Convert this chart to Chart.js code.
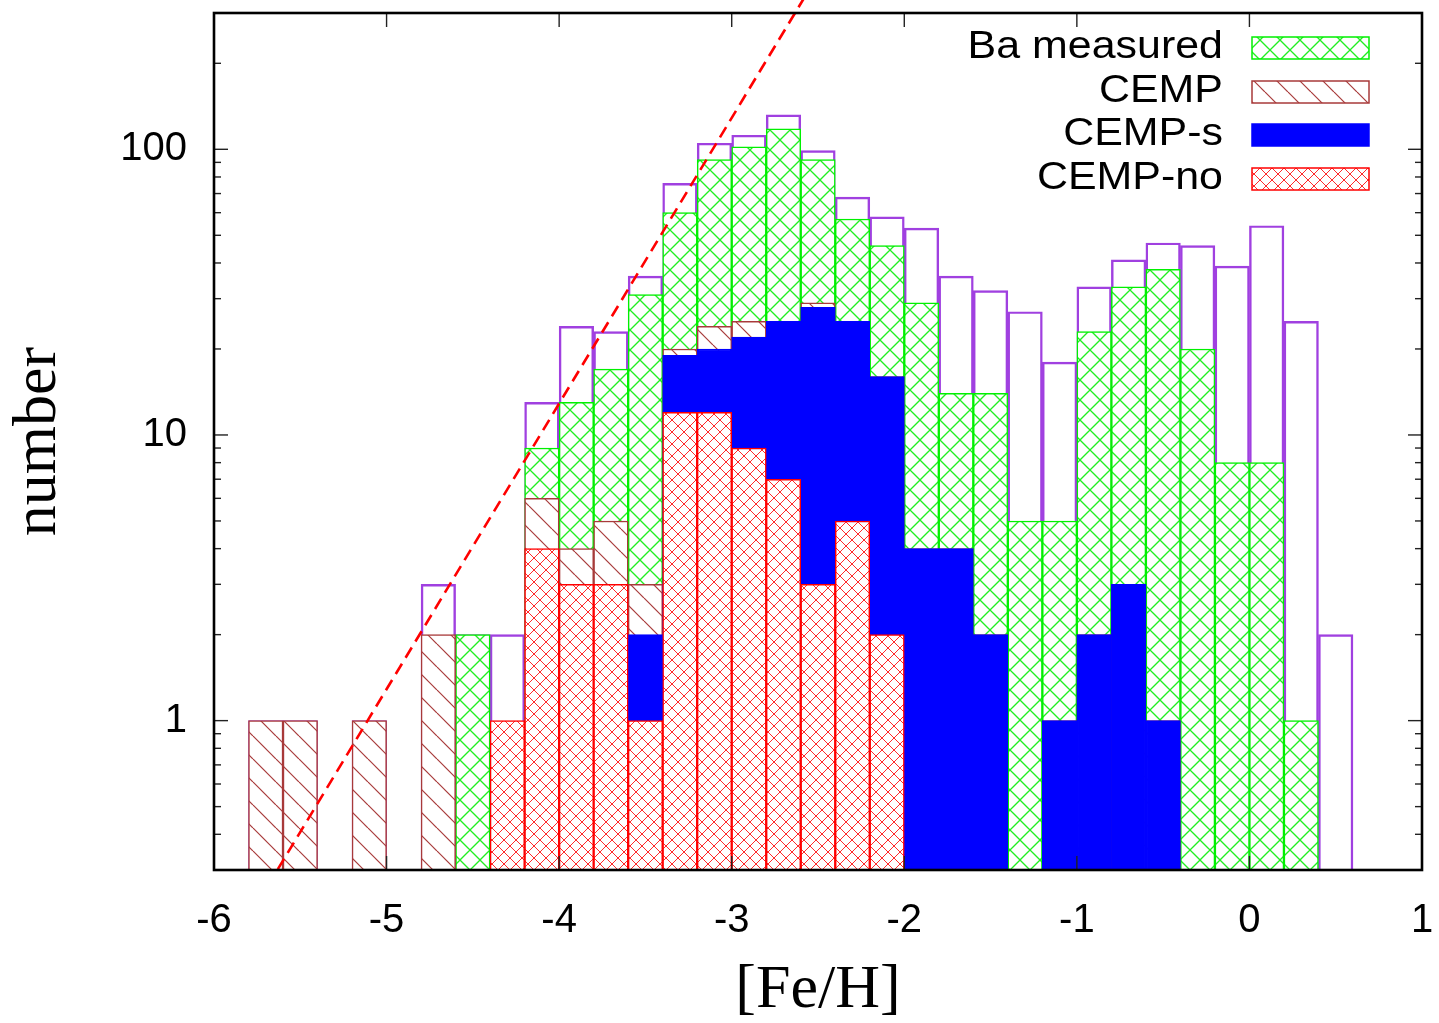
<!DOCTYPE html>
<html><head><meta charset="utf-8">
<script src="https://cdn.jsdelivr.net/npm/chart.js@4.4.0/dist/chart.umd.min.js"></script>
<style>html,body{margin:0;padding:0;background:#fff;} #wrap{position:relative;width:1439px;height:1023px;}</style>
</head><body><div id="wrap"><canvas id="c"></canvas></div>
<script>
// ---- data ----
const binCenters   = [-5.7,-5.5,-5.3,-5.1,-4.9,-4.7,-4.5,-4.3,-4.1,-3.9,-3.7,-3.5,-3.3,-3.1,-2.9,-2.7,-2.5,-2.3,-2.1,-1.9,-1.7,-1.5,-1.3,-1.1,-0.9,-0.7,-0.5,-0.3,-0.1,0.1,0.3,0.5];
const totalCounts  = [1,1,null,1,null,3,2,2,13,24,23,36,76,105,112,132,99,68,58,53,36,32,27,18,33,41,47,46,39,54,25,2];
const baCounts     = [null,null,null,null,null,null,2,null,9,13,17,31,60,92,102,118,92,57,46,29,14,14,5,5,23,33,38,20,8,8,1,null];
const cempCounts   = [1,1,null,1,null,2,null,null,6,4,5,3,20,24,25,25,29,25,16,4,4,2,null,1,2,3,1,null,null,null,null,null];
const cempSCounts  = [null,null,null,null,null,null,null,null,null,null,null,2,19,20,22,25,28,25,16,4,4,2,null,1,2,3,1,null,null,null,null,null];
const cempNoCounts = [null,null,null,null,null,null,null,1,4,3,3,1,12,12,9,7,3,5,2,null,null,null,null,null,null,null,null,null,null,null,null,null];
const fitLineX = [-5.63, -2.58];
const fitLineY = [0.302, 339];
const xTickValues = [-6,-5,-4,-3,-2,-1,0,1];
const yMajorTicks = [1,10,100];
const yMinorTicks = [0.4,0.5,0.6,0.7,0.8,0.9,2,3,4,5,6,7,8,9,20,30,40,50,60,70,80,90,200];
const legendLabels = ['Ba measured','CEMP','CEMP-s','CEMP-no'];
const xTitle = '[Fe/H]';
const yTitle = 'number';

// ---- patterns ----
function makePattern(size, color, lw, dirs) {
  const c = document.createElement('canvas');
  c.width = size; c.height = size;
  const g = c.getContext('2d');
  g.fillStyle = '#fff'; g.fillRect(0, 0, size, size);
  g.strokeStyle = color; g.lineWidth = lw;
  for (const d of dirs) {
    for (const off of [-size, 0, size]) {
      g.beginPath();
      if (d === '\\') { g.moveTo(off, 0); g.lineTo(off + size, size); }
      else { g.moveTo(off, size); g.lineTo(off + size, 0); }
      g.stroke();
    }
  }
  return g.createPattern(c, 'repeat');
}
const greenPat = makePattern(20, '#22ee22', 1.3, ['\\', '/']);
const brownPat = makePattern(23, '#a83a3a', 1.2, ['\\']);
const redPat   = makePattern(12, '#ff2a2a', 1.0, ['\\', '/']);

const toPts = arr => binCenters.map((x, i) => ({x: x, y: arr[i]}));

const styles = [
  {label: legendLabels[0], fill: greenPat, border: '#00f000'},
  {label: legendLabels[1], fill: brownPat, border: '#a83a3a'},
  {label: legendLabels[2], fill: '#0000ff', border: '#0000ff'},
  {label: legendLabels[3], fill: redPat, border: '#ff0000'}
];

const barCommon = {type: 'bar', barThickness: 'flex', categoryPercentage: 1, barPercentage: 1, stack: 'all', borderWidth: 1.5};

const zeroPad = s => { s.paddingTop = 0; s.paddingBottom = 0; s.paddingLeft = 0; s.paddingRight = 0; };

const framePlugin = {
  id: 'frame',
  afterDatasetsDraw(chart) {
    const ctx = chart.ctx;
    const {left, right, top, bottom} = chart.chartArea;
    const xs = chart.scales.x, ys = chart.scales.y;
    ctx.save();
    ctx.strokeStyle = '#222'; ctx.lineWidth = 1.4;
    const line = (a, b, c, d) => { ctx.beginPath(); ctx.moveTo(a, b); ctx.lineTo(c, d); ctx.stroke(); };
    for (const v of xTickValues) {
      const p = xs.getPixelForValue(v);
      line(p, bottom, p, bottom - 14); line(p, top, p, top + 14);
    }
    for (const v of yMajorTicks) {
      const p = ys.getPixelForValue(v);
      line(left, p, left + 14, p); line(right, p, right - 14, p);
    }
    for (const v of yMinorTicks) {
      const p = ys.getPixelForValue(v);
      line(left, p, left + 7, p); line(right, p, right - 7, p);
    }
    ctx.strokeStyle = '#000'; ctx.lineWidth = 2.6;
    ctx.strokeRect(left, top, right - left, bottom - top);
    ctx.restore();
  },
  afterDraw(chart) {
    const ctx = chart.ctx;
    const {right, top} = chart.chartArea;
    const rows = [35, 79, 122, 166];
    ctx.save();
    styles.forEach((s, i) => {
      const cy = top + rows[i];
      ctx.save();
      ctx.translate(right - 199, cy);
      ctx.scale(1.13, 1);
      ctx.font = '38px "Liberation Sans", Arial, sans-serif';
      ctx.fillStyle = '#000';
      ctx.textAlign = 'right'; ctx.textBaseline = 'middle';
      ctx.fillText(s.label, 0, 0);
      ctx.restore();
      const bx = right - 170, bw = 117, bh = 22;
      ctx.fillStyle = s.fill;
      ctx.fillRect(bx, cy - bh / 2, bw, bh);
      ctx.strokeStyle = s.border; ctx.lineWidth = 1.5;
      ctx.strokeRect(bx, cy - bh / 2, bw, bh);
    });
    ctx.restore();
  }
};

new Chart(document.getElementById('c'), {
  type: 'bar',
  data: {
    datasets: [
      {type: 'line', data: fitLineX.map((x, i) => ({x: x, y: fitLineY[i]})), borderColor: '#ff0000', borderWidth: 2.6,
       borderDash: [12, 7], pointRadius: 0, fill: false, clip: false, order: 0},
      Object.assign({}, barCommon, {label: legendLabels[3], data: toPts(cempNoCounts), backgroundColor: redPat, borderColor: '#ff0000', order: 1}),
      Object.assign({}, barCommon, {label: legendLabels[2], data: toPts(cempSCounts), backgroundColor: '#0000ff', borderColor: '#0000ff', order: 2}),
      Object.assign({}, barCommon, {label: legendLabels[1], data: toPts(cempCounts), backgroundColor: brownPat, borderColor: '#a83a3a', order: 3}),
      Object.assign({}, barCommon, {label: legendLabels[0], data: toPts(baCounts), backgroundColor: greenPat, borderColor: '#00f000', order: 4}),
      Object.assign({}, barCommon, {label: 'all', data: toPts(totalCounts), backgroundColor: 'rgba(0,0,0,0)', borderColor: '#a040e0', borderWidth: 1.8, order: 5})
    ]
  },
  options: {
    responsive: true, maintainAspectRatio: false, animation: false,
    layout: {padding: {top: 13, right: 17, left: 0, bottom: 0}},
    plugins: {legend: {display: false}, tooltip: {enabled: false}},
    scales: {
      x: {
        type: 'linear', min: -6, max: 1, offset: false,
        grid: {display: false}, border: {display: false},
        afterBuildTicks: s => { s.ticks = xTickValues.map(v => ({value: v})); },
        ticks: {autoSkip: false, maxRotation: 0, padding: 23, color: '#000',
                font: {family: '"Liberation Sans", Arial, sans-serif', size: 40, lineHeight: 1},
                callback: v => String(v)},
        title: {display: true, text: xTitle, color: '#000', padding: {top: 0, bottom: 1},
                font: {family: '"Liberation Serif", "Times New Roman", serif', size: 62, lineHeight: 1}},
        afterFit: s => { s.height = 153; zeroPad(s); }
      },
      y: {
        type: 'logarithmic', min: 0.3, max: 300, stacked: false,
        grid: {display: false}, border: {display: false},
        afterBuildTicks: s => { s.ticks = yMinorTicks.concat(yMajorTicks).sort((a, b) => a - b).map(v => ({value: v, major: yMajorTicks.includes(v)})); },
        ticks: {autoSkip: false, padding: 19, color: '#000',
                font: {family: '"Liberation Sans", Arial, sans-serif', size: 40, lineHeight: 1},
                callback: v => yMajorTicks.includes(v) ? String(v) : ''},
        title: {display: true, text: yTitle, color: '#000', padding: {top: 8, bottom: 0},
                font: {family: '"Liberation Serif", "Times New Roman", serif', size: 62, lineHeight: 1}},
        afterFit: s => { s.width = 214; zeroPad(s); }
      }
    }
  },
  plugins: [framePlugin]
});
</script></body></html>
